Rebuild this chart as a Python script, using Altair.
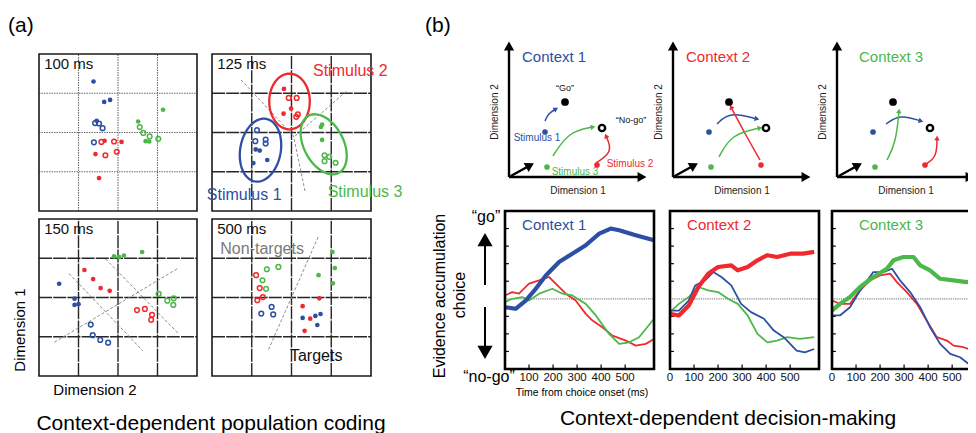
import math
import altair as alt
import pandas as pd

FONT = "Liberation Sans"
BLUE, RED, GREEN = "#2c4fa3", "#ee2a2e", "#4db84a"
GRAY = "#8c8c8c"

# ---------------- (a) scatter data (grid units, 4x4 cells) ----------------
P100_X = [1.38, 1.65, 1.80, 1.46, 1.42, 1.52, 1.61, 1.39,
          1.66, 2.09, 1.43, 1.52, 1.58, 1.90, 1.68, 1.97,
          3.14, 2.51, 2.70, 2.79, 2.55, 2.64, 2.80, 3.02]
P100_Y = [3.30, 2.78, 2.83, 2.30, 2.24, 2.23, 2.11, 1.75,
          1.79, 1.76, 1.45, 0.84, 1.76, 1.77, 1.42, 1.51,
          2.58, 2.28, 1.78, 1.77, 2.14, 1.99, 1.90, 1.84]
P100_S = [1] * 8 + [2] * 8 + [3] * 8
P100_F = [1, 1, 1, 1, 0, 0, 0, 0] * 3

P125_X = [1.13, 1.09, 1.35, 1.35, 1.10, 1.20, 1.39, 1.04,
          1.81, 1.99, 1.80, 1.93, 2.13, 2.16, 2.12,
          2.74, 2.77, 2.77, 2.83, 2.95, 2.83, 3.11]
P125_Y = [2.06, 1.78, 1.82, 1.72, 1.57, 1.54, 1.30, 1.22,
          3.11, 2.61, 2.48, 2.88, 2.88, 2.46, 2.40,
          2.14, 2.20, 1.81, 1.42, 1.38, 1.27, 1.23]
P125_S = [1] * 8 + [2] * 7 + [3] * 7
P125_F = [0, 0, 0, 0, 1, 1, 1, 1, 1, 1, 1, 0, 0, 0, 0, 1, 1, 1, 0, 0, 0, 0]

P150_X = [1.90, 2.03, 2.15, 2.61, 3.03, 3.25, 3.41, 3.40,
          1.15, 1.37, 1.56, 1.79, 2.48, 2.68, 2.86, 2.84,
          0.51, 0.90, 0.90, 1.00, 1.31, 1.36, 1.55, 1.75]
P150_Y = [3.05, 3.03, 3.07, 3.16, 2.09, 1.92, 1.98, 1.81,
          2.70, 2.47, 2.24, 2.17, 1.68, 1.71, 1.56, 1.43,
          2.35, 1.97, 1.81, 1.83, 1.31, 1.04, 0.92, 0.85]
P150_S = [3] * 8 + [2] * 8 + [1] * 8
P150_F = [1, 1, 1, 1, 0, 0, 0, 0] * 3

P500_X = [1.38, 1.67, 1.27, 1.36, 3.03, 3.09, 2.68, 3.04,
          1.11, 1.20, 1.28, 1.14, 2.70, 2.28, 2.47, 2.33,
          1.50, 1.24, 1.54, 2.28, 2.60, 2.73, 2.65]
P500_Y = [2.72, 2.78, 2.44, 2.22, 3.16, 2.75, 2.57, 2.36,
          2.57, 2.24, 2.01, 1.93, 1.98, 1.78, 1.46, 1.15,
          1.76, 1.59, 1.57, 1.48, 1.53, 1.58, 1.30]
P500_S = [3] * 8 + [2] * 8 + [1] * 7
P500_F = [0, 0, 0, 0, 1, 1, 1, 1, 0, 0, 0, 0, 1, 1, 1, 1, 0, 0, 0, 1, 1, 1, 1]

# ellipses in the 125 ms panel: centre x, centre y, half-width, half-height, tilt (deg), stimulus
ELLIPSES = [(1.22, 1.55, 0.51, 0.81, -10, 1),
            (1.95, 2.79, 0.51, 0.71, 0, 2),
            (2.81, 1.70, 0.50, 0.82, 27, 3)]

# dashed separator lines: (panel, line id, x list, y list)
SEPARATORS = [("p125", 1, [0.73, 2.05, 2.35], [3.34, 1.91, 0.46]),
              ("p125", 2, [2.09, 3.38], [1.91, 3.05]),
              ("p150", 1, [0.39, 3.53], [0.86, 2.75]),
              ("p150", 2, [0.76, 2.63], [2.61, 0.64]),
              ("p150", 3, [1.69, 3.53], [2.98, 1.08]),
              ("p500", 1, [2.67, 1.42], [3.54, 0.67])]

GRID_VALUES = [1, 2, 3]

# ---------------- (b) schematic data ----------------
GO_PT = (56, 75)
NOGO_PT = (93, 49)
STIM_U = [36, 88, 38]   # stimulus 1, 2, 3
STIM_V = [45, 12, 10]
# arrows: start, mid, end (u, v) for stimulus 1, 2, 3 in each context
ARROWS = {
    1: [[(36, 56), (40, 63), (47, 68)], [(87, 14), (100, 26), (97, 41)], [(44, 21), (61, 42), (84, 50)]],
    2: [[(44, 53), (59, 62), (84, 58)], [(87, 17), (74, 40), (58, 70)], [(46, 20), (61, 40), (87, 49)]],
    3: [[(49, 53), (64, 60), (84, 56)], [(89, 13), (98, 22), (100, 39)], [(50, 17), (58, 37), (62, 66)]],
}

# ---------------- (b) evidence accumulation curves ----------------
C1_BLUE_T = [0, 44, 86, 128, 170, 225, 280, 336, 392, 440, 475, 544, 620]
C1_BLUE_V = [-0.48, -0.57, -0.10, 0.57, 1.33, 2.10, 2.57, 3.05, 3.71, 4.00, 3.90, 3.62, 3.33]
C1_RED_T = [0, 30, 58, 100, 142, 183, 211, 253, 294, 336, 364, 405, 447, 503, 544, 586, 620]
C1_RED_V = [0.19, 0.38, 0.29, 0.86, 1.05, 1.24, 0.86, 0.29, -0.10, -0.86, -1.24, -1.62, -2.10, -2.38, -2.67, -2.57, -2.29]
C1_GREEN_T = [0, 30, 72, 100, 142, 197, 239, 280, 336, 378, 433, 475, 517, 558, 620]
C1_GREEN_V = [-0.19, 0.0, 0.10, -0.10, 0.29, 0.57, 0.29, 0.19, -0.29, -0.95, -2.0, -2.57, -2.48, -2.19, -1.14]

C2_RED_T = [0, 37, 78, 118, 159, 200, 255, 282, 323, 364, 405, 446, 500, 554, 600]
C2_RED_V = [-0.86, -0.95, -0.38, 0.67, 1.43, 1.81, 1.90, 1.62, 1.81, 2.19, 2.48, 2.38, 2.57, 2.57, 2.67]
C2_BLUE_T = [0, 37, 78, 105, 146, 180, 214, 255, 296, 337, 391, 432, 473, 527, 561, 600]
C2_BLUE_V = [-0.67, -0.67, -0.10, 0.76, 1.05, 1.52, 1.24, 0.76, -0.29, -0.76, -1.14, -1.81, -2.19, -2.95, -3.05, -2.86]
C2_GREEN_T = [0, 37, 78, 118, 159, 200, 241, 282, 323, 364, 405, 446, 487, 541, 600]
C2_GREEN_V = [-0.76, -0.29, 0.10, 0.67, 0.48, 0.38, 0.0, -0.29, -0.95, -2.0, -2.48, -2.38, -2.19, -2.29, -2.19]

C3_GREEN_T = [0, 33, 75, 117, 172, 228, 256, 297, 339, 367, 408, 450, 506, 561, 600]
C3_GREEN_V = [-0.67, -0.29, 0.10, 0.67, 1.24, 1.71, 2.19, 2.38, 2.38, 1.90, 1.62, 1.14, 1.05, 0.95, 1.05]
C3_RED_T = [0, 33, 75, 117, 158, 200, 242, 270, 311, 353, 394, 436, 478, 506, 547, 589, 600]
C3_RED_V = [-0.10, -0.29, -0.29, 0.48, 1.05, 1.33, 1.43, 0.95, 0.38, -0.29, -1.24, -2.19, -2.38, -2.67, -2.76, -2.95, -3.05]
C3_BLUE_T = [0, 33, 75, 117, 172, 214, 250, 283, 325, 367, 408, 450, 492, 533, 568, 600]
C3_BLUE_V = [-0.95, -0.95, -0.48, 0.48, 1.52, 1.52, 1.71, 1.05, 0.38, -0.48, -1.62, -2.57, -3.14, -3.33, -3.71, -3.52]

X_TICKS_1 = [100, 200, 300, 400, 500]
X_TICKS_23 = [0, 100, 200, 300, 400, 500]
Y_TICKS = [-3, -2, -1, 1, 2, 3, 4]

# ---------------- layout: each panel's scale domain and pixel range ----------------
PANELS = {
    "p100": dict(xd=[0, 4], xr=[31, 189], yd=[0, 4], yr=[203, 46]),
    "p125": dict(xd=[0, 4], xr=[204, 363], yd=[0, 4], yr=[203, 46]),
    "p150": dict(xd=[0, 4], xr=[31, 189], yd=[0, 4], yr=[368, 211]),
    "p500": dict(xd=[0, 4], xr=[204, 363], yd=[0, 4], yr=[368, 211]),
    "c1": dict(xd=[0, 140], xr=[501, 641], yd=[0, 140], yr=[169, 29]),
    "c2": dict(xd=[0, 140], xr=[665, 805], yd=[0, 140], yr=[169, 29]),
    "c3": dict(xd=[0, 140], xr=[829, 969], yd=[0, 140], yr=[169, 29]),
    "l1": dict(xd=[0, 620], xr=[497, 646], yd=[-4, 5], yr=[361, 203]),
    "l2": dict(xd=[0, 620], xr=[662, 811], yd=[-4, 5], yr=[361, 203]),
    "l3": dict(xd=[0, 620], xr=[824, 973], yd=[-4, 5], yr=[361, 203]),
}

STIM_COLOR = alt.Color("s:N", scale=alt.Scale(domain=["1", "2", "3"], range=[BLUE, RED, GREEN]), legend=None)


def sc(dom, rng):
    return alt.Scale(domain=dom, range=rng, nice=False, zero=False)


def enc(p, xf="x", yf="y"):
    P = PANELS[p]
    return dict(x=alt.X(f"{xf}:Q", scale=sc(P["xd"], P["xr"]), axis=None),
                y=alt.Y(f"{yf}:Q", scale=sc(P["yd"], P["yr"]), axis=None))


def txt(p, rows, **mk):
    df = pd.DataFrame(rows, columns=["x", "y", "t", "c"])
    return alt.Chart(df).mark_text(font=FONT, **mk).encode(
        **enc(p), text="t:N", color=alt.Color("c:N", scale=None))


def free_text(t, x, y, **mk):
    return alt.Chart(pd.DataFrame({"t": [t]})).mark_text(font=FONT, **mk).encode(
        x=alt.value(x), y=alt.value(y), text="t:N")


layers = []

# ---------------- (a) ----------------
scatter = {"p100": (P100_X, P100_Y, P100_S, P100_F, "100 ms"),
           "p125": (P125_X, P125_Y, P125_S, P125_F, "125 ms"),
           "p150": (P150_X, P150_Y, P150_S, P150_F, "150 ms"),
           "p500": (P500_X, P500_Y, P500_S, P500_F, "500 ms")}

for name, (X, Y, S, F, label) in scatter.items():
    lo, hi = PANELS[name]["xd"]
    rows = []
    for g in GRID_VALUES:
        rows.append(dict(x=g, y=lo, x2=g, y2=hi))
        rows.append(dict(x=lo, y=g, x2=hi, y2=g))
    grid = pd.DataFrame(rows)
    if name == "p100":
        gstyle = dict(color="#6a6a6a", strokeWidth=1.1, strokeDash=[1.5, 1])
    else:
        gstyle = dict(color="#262626", strokeWidth=1.4, strokeDash=[13, 1.2])
    layers.append(alt.Chart(grid).mark_rule(**gstyle).encode(**enc(name), x2="x2:Q", y2="y2:Q"))
    frame = pd.DataFrame([dict(x=lo, y=lo, x2=hi, y2=hi)])
    layers.append(alt.Chart(frame).mark_rect(fillOpacity=0, stroke="#1a1a1a", strokeWidth=1.6)
                  .encode(**enc(name), x2="x2:Q", y2="y2:Q"))

    seps = []
    for (pn, lid, xs, ys) in SEPARATORS:
        if pn == name:
            for o, (a, b) in enumerate(zip(xs, ys)):
                seps.append(dict(id=lid, o=o, x=a, y=b))
    if seps:
        layers.append(alt.Chart(pd.DataFrame(seps)).mark_line(color=GRAY, strokeWidth=1, strokeDash=[3, 2])
                      .encode(**enc(name), detail="id:N", order="o:Q"))

    df = pd.DataFrame(dict(x=X, y=Y, s=[str(v) for v in S], f=F))
    layers.append(alt.Chart(df[df.f == 1]).mark_circle(size=22, opacity=1).encode(**enc(name), color=STIM_COLOR))
    layers.append(alt.Chart(df[df.f == 0]).mark_point(filled=False, size=22, strokeWidth=1.5, opacity=1)
                  .encode(**enc(name), color=STIM_COLOR))
    layers.append(txt(name, [(0.13, 3.74, label, "#111")], align="left", baseline="middle", fontSize=15))

# ellipses
erows = []
for k, (cx, cy, rx, ry, phi, s) in enumerate(ELLIPSES):
    ph = math.radians(phi)
    for i in range(73):
        t = 2 * math.pi * i / 72
        ex = cx + rx * math.cos(t) * math.cos(ph) - ry * math.sin(t) * math.sin(ph)
        ey = cy + rx * math.cos(t) * math.sin(ph) + ry * math.sin(t) * math.cos(ph)
        erows.append(dict(id=k, o=i, x=ex, y=ey, s=str(s)))
layers.append(alt.Chart(pd.DataFrame(erows)).mark_line(strokeWidth=2.3)
              .encode(**enc("p125"), color=STIM_COLOR, detail="id:N", order="o:Q"))

layers.append(txt("p125", [(3.48, 3.57, "Stimulus 2", RED), (0.81, 0.41, "Stimulus 1", BLUE),
                           (3.85, 0.49, "Stimulus 3", GREEN)], align="center", baseline="middle", fontSize=16))
layers.append(txt("p500", [(1.26, 3.24, "Non-targets", "#7a7a7a"), (2.62, 0.51, "Targets", "#111")],
                  align="center", baseline="middle", fontSize=16))

layers.append(free_text("(a)", 0, 24, align="left", baseline="alphabetic", fontSize=21))
layers.append(free_text("Dimension 1", 12, 322, angle=270, align="center", baseline="middle", fontSize=15))
layers.append(free_text("Dimension 2", 87, 382, align="center", baseline="middle", fontSize=15))
layers.append(free_text("Context-dependent population coding", 203, 422, align="center",
                        baseline="alphabetic", fontSize=21))

# ---------------- (b) schematics ----------------
for ci in (1, 2, 3):
    name = f"c{ci}"
    axes = pd.DataFrame([dict(x=0, y=0, x2=0, y2=128), dict(x=0, y=0, x2=130, y2=0),
                         dict(x=0, y=0, x2=19, y2=10.5)])
    layers.append(alt.Chart(axes).mark_rule(color="black", strokeWidth=2.4)
                  .encode(**enc(name), x2="x2:Q", y2="y2:Q"))
    heads = pd.DataFrame([dict(x=0, y=131, a=0), dict(x=133, y=0, a=90), dict(x=21, y=11.6, a=61)])
    layers.append(alt.Chart(heads).mark_point(shape="triangle-up", filled=True, size=105, color="black", opacity=1)
                  .encode(**enc(name), angle=alt.Angle("a:Q", scale=None)))

    # curved arrows (basis curve: start, control, end)
    crow, hrow = [], []
    for si, (p0, m, p2) in enumerate(ARROWS[ci]):
        cu = (6 * m[0] - p0[0] - p2[0]) / 4
        cv = (6 * m[1] - p0[1] - p2[1]) / 4
        for o, (u, v) in enumerate([p0, (cu, cv), p2]):
            crow.append(dict(id=si, o=o, x=u, y=v, s=str(si + 1)))
        ang = math.degrees(math.atan2(p2[0] - cu, p2[1] - cv)) % 360
        hrow.append(dict(x=p2[0], y=p2[1], a=ang, s=str(si + 1)))
    layers.append(alt.Chart(pd.DataFrame(crow)).mark_line(strokeWidth=1.5, interpolate="basis")
                  .encode(**enc(name), color=STIM_COLOR, detail="id:N", order="o:Q"))
    layers.append(alt.Chart(pd.DataFrame(hrow)).mark_point(shape="triangle-up", filled=True, size=30, opacity=1)
                  .encode(**enc(name), color=STIM_COLOR, angle=alt.Angle("a:Q", scale=None)))

    dots = pd.DataFrame(dict(x=STIM_U, y=STIM_V, s=["1", "2", "3"]))
    layers.append(alt.Chart(dots).mark_circle(size=32, opacity=1).encode(**enc(name), color=STIM_COLOR))
    layers.append(alt.Chart(pd.DataFrame([dict(x=GO_PT[0], y=GO_PT[1])])).mark_circle(size=60, color="black", opacity=1)
                  .encode(**enc(name)))
    layers.append(alt.Chart(pd.DataFrame([dict(x=NOGO_PT[0], y=NOGO_PT[1])]))
                  .mark_point(size=40, filled=False, color="black", strokeWidth=2.4, opacity=1).encode(**enc(name)))

    ctitle_u = 13 if ci < 3 else 22
    layers.append(txt(name, [(ctitle_u, 120, f"Context {ci}", [BLUE, RED, GREEN][ci - 1])],
                      align="left", baseline="middle", fontSize=15))
    layers.append(txt(name, [(69, -14, "Dimension 1", "#222")], align="center", baseline="middle", fontSize=10))
    layers.append(txt(name, [(-14, 65, "Dimension 2", "#222")], align="center", baseline="middle",
                      fontSize=10, angle=270))
    if ci == 1:
        layers.append(txt(name, [(56, 89, "\u201cGo\u201d", "#111"), (122, 57, "\u201cNo-go\u201d", "#111")],
                          align="center", baseline="middle", fontSize=9))
        layers.append(txt(name, [(28, 39, "Stimulus 1", BLUE), (66, 5, "Stimulus 3", GREEN),
                                 (121, 13, "Stimulus 2", RED)], align="center", baseline="middle", fontSize=10))

# ---------------- (b) evidence accumulation panels ----------------
curves = {
    "l1": [(C1_RED_T, C1_RED_V, "2", 1.8), (C1_GREEN_T, C1_GREEN_V, "3", 1.8), (C1_BLUE_T, C1_BLUE_V, "1", 4.2)],
    "l2": [(C2_GREEN_T, C2_GREEN_V, "3", 1.8), (C2_BLUE_T, C2_BLUE_V, "1", 1.8), (C2_RED_T, C2_RED_V, "2", 4.2)],
    "l3": [(C3_RED_T, C3_RED_V, "2", 1.8), (C3_BLUE_T, C3_BLUE_V, "1", 1.8), (C3_GREEN_T, C3_GREEN_V, "3", 4.2)],
}
for k, name in enumerate(["l1", "l2", "l3"]):
    x0, x1 = PANELS[name]["xd"]
    y0, y1 = PANELS[name]["yd"]
    layers.append(alt.Chart(pd.DataFrame([dict(x=x0, y=0, x2=x1, y2=0)]))
                  .mark_rule(color="#888", strokeWidth=1.2, strokeDash=[1.2, 1])
                  .encode(**enc(name), x2="x2:Q", y2="y2:Q"))
    ticks = [dict(x=x0, y=v, x2=x0 + 16, y2=v) for v in Y_TICKS]
    xt = X_TICKS_1 if name == "l1" else X_TICKS_23
    ticks += [dict(x=t, y=y0, x2=t, y2=y0 + 0.25) for t in xt if t > 0]
    layers.append(alt.Chart(pd.DataFrame(ticks)).mark_rule(color="black", strokeWidth=1.2)
                  .encode(**enc(name), x2="x2:Q", y2="y2:Q"))
    for (T, V, s, w) in curves[name]:
        cdf = pd.DataFrame(dict(x=T, y=V, s=s))
        layers.append(alt.Chart(cdf).mark_line(strokeWidth=w, strokeJoin="round")
                      .encode(**enc(name), color=STIM_COLOR))
    layers.append(alt.Chart(pd.DataFrame([dict(x=x0, y=y0, x2=x1, y2=y1)]))
                  .mark_rect(fillOpacity=0, stroke="black", strokeWidth=2.6)
                  .encode(**enc(name), x2="x2:Q", y2="y2:Q"))
    layers.append(txt(name, [(t, y0, str(t), "#111") for t in xt], align="center", baseline="middle",
                      fontSize=11.5, dy=9))
    tu = 71 if name != "l3" else 112
    layers.append(txt(name, [(tu, 4.2, f"Context {k + 1}", [BLUE, RED, GREEN][k])],
                      align="left", baseline="middle", fontSize=15))

# arrows and labels left of the first evidence panel
arr = pd.DataFrame([dict(y=0.79, y2=3.2), dict(y=-0.47, y2=-2.9)])
layers.append(alt.Chart(arr).mark_rule(color="black", strokeWidth=2)
              .encode(x=alt.value(477), y=alt.Y("y:Q", scale=sc(PANELS["l1"]["yd"], PANELS["l1"]["yr"]), axis=None),
                      y2="y2:Q"))
arrh = pd.DataFrame([dict(y=3.37, a=0), dict(y=-3.05, a=180)])
layers.append(alt.Chart(arrh).mark_point(shape="triangle-up", filled=True, size=230, color="black", opacity=1)
              .encode(x=alt.value(477), y=alt.Y("y:Q", scale=sc(PANELS["l1"]["yd"], PANELS["l1"]["yr"]), axis=None),
                      angle=alt.Angle("a:Q", scale=None)))
layers.append(free_text("\u201cgo\u201d", 478, 209, align="center", baseline="middle", fontSize=16))
layers.append(free_text("\u201cno-go\u201d", 481, 369, align="center", baseline="middle", fontSize=16))
layers.append(free_text("Evidence accumulation", 432, 288, angle=270, align="center", baseline="middle", fontSize=16))
layers.append(free_text("choice", 452, 287, angle=270, align="center", baseline="middle", fontSize=16))
layers.append(free_text("Time from choice onset (ms)", 574, 385, align="center", baseline="middle", fontSize=10.5))
layers.append(free_text("(b)", 417, 24, align="left", baseline="alphabetic", fontSize=21))
layers.append(free_text("Context-dependent decision-making", 720, 417, align="center",
                        baseline="alphabetic", fontSize=21))

chart = (alt.layer(*layers)
         .resolve_scale(x="independent", y="independent", color="independent")
         .properties(width=960, height=425, padding=0, autosize=alt.AutoSizeParams(type="none"))
         .configure_view(stroke=None))

chart.save("out.html", embed_options={"renderer": "svg", "actions": False})
